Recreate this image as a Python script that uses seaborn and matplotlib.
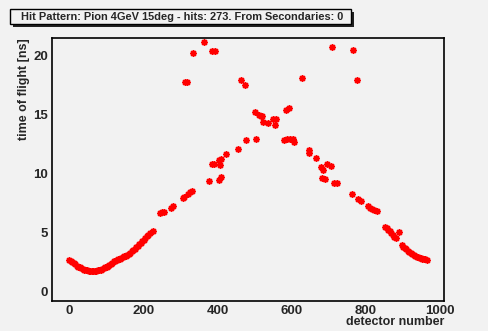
import matplotlib
matplotlib.use("Agg")
import matplotlib.pyplot as plt
import seaborn as sns
import pandas as pd
from matplotlib.patches import Rectangle
from matplotlib.ticker import MultipleLocator

# ---- data ----
title = "Hit Pattern: Pion 4GeV 15deg - hits: 273. From Secondaries: 0"
x_label = "detector number"
y_label = "time of flight [ns]"

det_front = [0, 4, 8, 12, 16, 20, 24, 28, 32, 36, 40, 44, 48, 52, 56, 60, 64, 68,
             72, 76, 80, 84, 88, 92, 96, 100, 104, 108, 112, 116, 120, 124, 128,
             132, 136, 140, 144, 148, 152, 156, 160, 164, 168, 172, 176, 180, 184,
             188, 192, 196, 200, 204, 208, 212, 218, 224]
tof_front = [2.65, 2.58, 2.5, 2.4, 2.3, 2.2, 2.12, 2.05, 1.98, 1.92, 1.87, 1.83,
             1.8, 1.77, 1.75, 1.74, 1.74, 1.75, 1.77, 1.8, 1.83, 1.87, 1.92, 1.98,
             2.05, 2.12, 2.2, 2.28, 2.36, 2.45, 2.55, 2.62, 2.68, 2.72, 2.78, 2.85,
             2.92, 2.98, 3.05, 3.12, 3.2, 3.3, 3.4, 3.5, 3.62, 3.75, 3.88, 4.0,
             4.12, 4.25, 4.4, 4.55, 4.7, 4.8, 5.0, 5.15]

det_middle = [244, 250, 254, 273, 279, 306, 310, 321, 326, 330, 312, 316, 332, 362,
              377, 384, 390, 385, 393, 402, 408, 402, 406, 408, 422, 454, 463, 474,
              476, 500, 504, 511, 516, 520, 523, 536, 550, 556, 554, 579, 584, 586,
              592, 595, 604, 606, 628, 645, 645, 666, 677, 684, 695, 705, 680, 690,
              709, 713, 722, 763, 765, 775, 779, 785, 806, 810, 815, 822, 830]
tof_middle = [6.64, 6.72, 6.78, 7.07, 7.26, 7.9, 7.98, 8.25, 8.4, 8.53, 17.75, 17.8,
              20.25, 21.2, 9.38, 10.8, 10.8, 20.4, 20.4, 9.47, 9.75, 11.16, 10.74,
              11.25, 11.64, 12.1, 17.9, 17.55, 12.86, 15.25, 12.94, 14.95, 14.9,
              14.9, 14.4, 14.27, 14.6, 14.6, 14.13, 12.85, 15.4, 12.9, 15.6, 12.9,
              12.9, 12.7, 18.1, 12.0, 11.78, 11.36, 10.54, 10.31, 10.85, 10.65,
              9.66, 9.55, 20.76, 9.24, 9.19, 8.3, 20.5, 17.9, 7.83, 7.71, 7.22,
              7.12, 7.0, 6.9, 6.8]

det_back = [852, 856, 860, 864, 868, 872, 876, 880, 889, 896, 900, 904, 908, 912,
            916, 920, 924, 928, 932, 936, 940, 944, 948, 952, 956, 960, 964]
tof_back = [5.5, 5.4, 5.25, 5.1, 4.95, 4.8, 4.65, 4.5, 5.08, 3.96, 3.82, 3.7, 3.58,
            3.47, 3.37, 3.28, 3.2, 3.1, 3.03, 2.97, 2.92, 2.86, 2.82, 2.78, 2.75,
            2.72, 2.69]

x_ticks = [0, 200, 400, 600, 800, 1000]
y_ticks = [0, 5, 10, 15, 20]

df = pd.DataFrame({
    "detector": det_front + det_middle + det_back,
    "tof": tof_front + tof_middle + tof_back,
})

# ---- style ----
bg = "#f2f2f2"
sns.set_style("white")
plt.rcParams["font.family"] = ["Liberation Sans", "DejaVu Sans"]
plt.rcParams["font.weight"] = "bold"

W, H = 488, 331
fig = plt.figure(figsize=(W / 100, H / 100), dpi=100, facecolor=bg)
ax = fig.add_axes([52 / W, 1 - 301 / H, (444 - 52) / W, (301 - 38) / H])
ax.set_facecolor(bg)

sns.scatterplot(data=df, x="detector", y="tof", ax=ax, color="red",
                marker=(8, 2, 0), s=14, linewidth=1.3, edgecolor="red",
                legend=False, zorder=3)

ax.set_xlim(-47, 1010)
ax.set_ylim(-0.8, 21.5)
ax.set_xticks(x_ticks)
ax.set_yticks(y_ticks)
ax.xaxis.set_minor_locator(MultipleLocator(50))
ax.yaxis.set_minor_locator(MultipleLocator(1))
ax.tick_params(which="major", direction="in", width=1.2,
               labelsize=9.5, color="#222222", top=False, right=False)
ax.tick_params(which="minor", direction="in", length=4.5, width=1,
               color="#222222", top=False, right=False)
ax.tick_params(axis="x", which="major", length=8, pad=3)
ax.tick_params(axis="y", which="major", length=11, pad=3)
for lab in ax.get_xticklabels() + ax.get_yticklabels():
    lab.set_fontweight("bold")

for side in ["left", "bottom", "top", "right"]:
    ax.spines[side].set_visible(True)
    ax.spines[side].set_color("black")
    ax.spines[side].set_linewidth(1.2)

ax.set_xlabel(x_label, loc="right", fontsize=9, fontweight="bold", labelpad=-1)
ax.set_ylabel(y_label, loc="top", fontsize=9, fontweight="bold", labelpad=2)

# ---- title box (ROOT-style pave with shadow) ----
bx0, bx1, by0, by1 = 10, 351, 9, 24
sh = 3
fig.patches.append(Rectangle(((bx0 + sh) / W, 1 - (by1 + sh) / H),
                             (bx1 - bx0) / W, (by1 - by0) / H,
                             transform=fig.transFigure, facecolor="#222222",
                             edgecolor="none", zorder=1))
fig.patches.append(Rectangle((bx0 / W, 1 - by1 / H), (bx1 - bx0) / W,
                             (by1 - by0) / H, transform=fig.transFigure,
                             facecolor=bg, edgecolor="black", linewidth=1,
                             zorder=2))
fig.text(21 / W, 1 - (by0 + by1) / 2 / H, title, fontsize=7.9,
         fontweight="bold", ha="left", va="center", zorder=3)

fig.savefig("out.png", dpi=100, facecolor=bg)
